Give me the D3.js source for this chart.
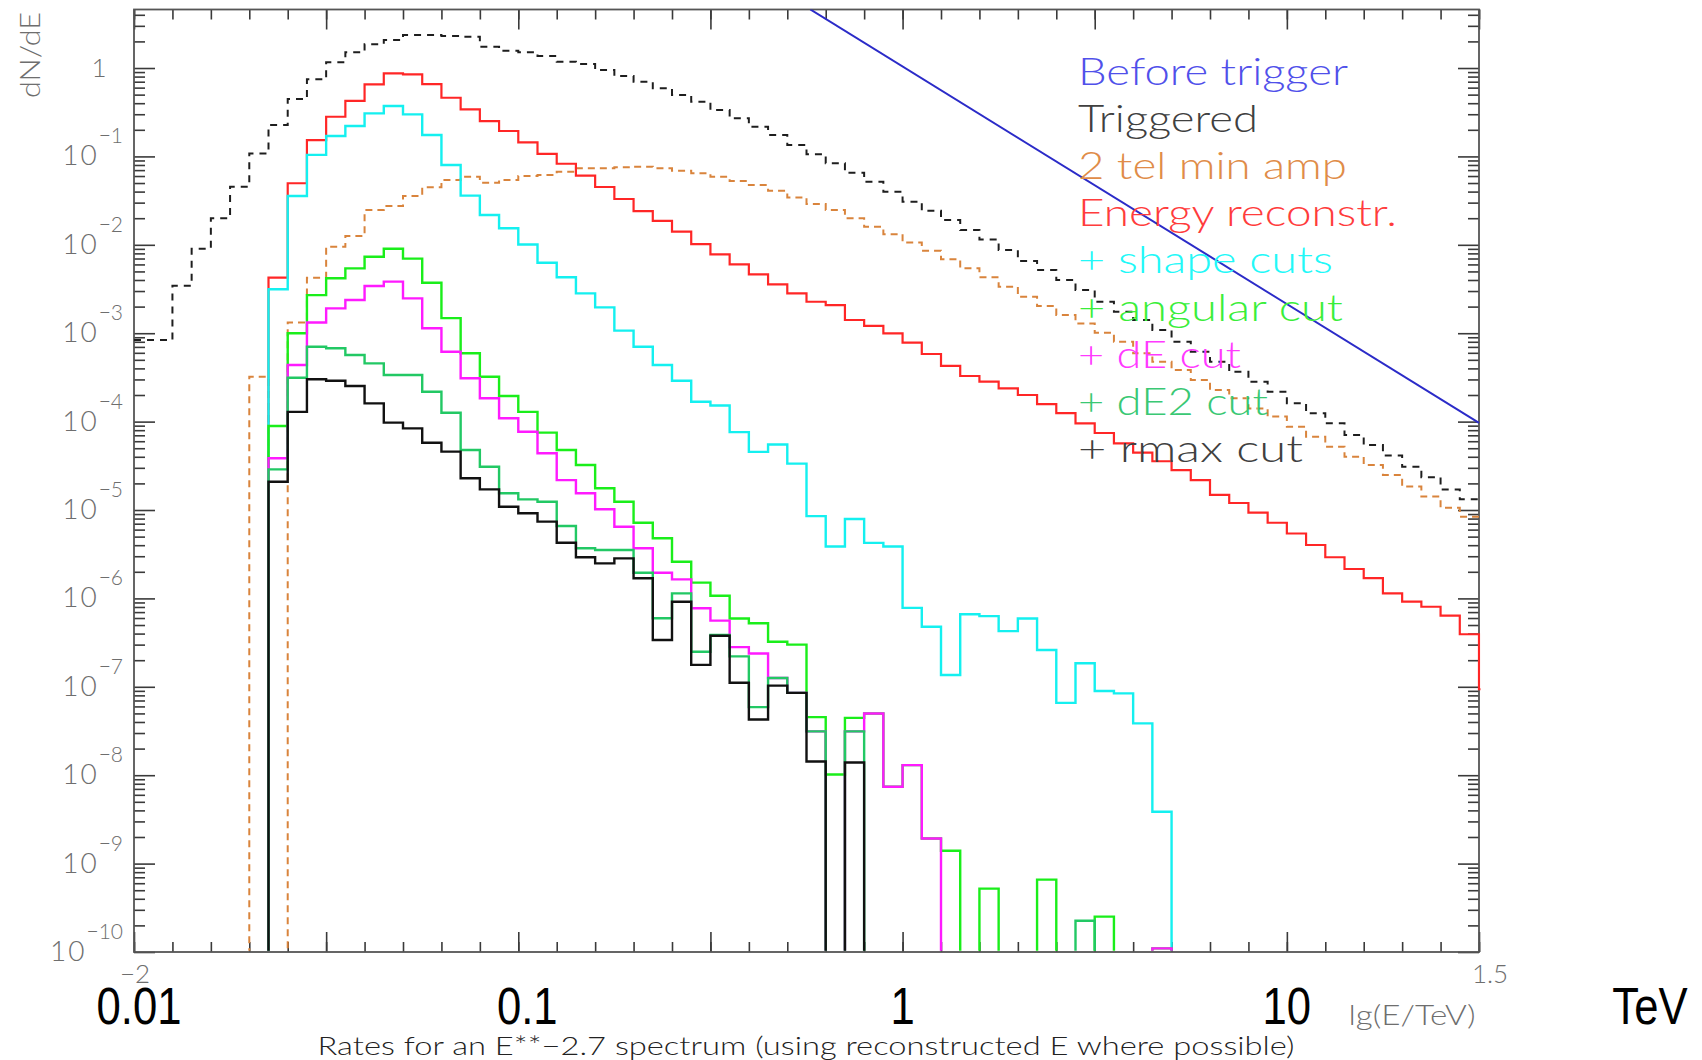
<!DOCTYPE html>
<html>
<head>
<meta charset="utf-8">
<script src="https://cdn.jsdelivr.net/npm/d3@7/dist/d3.min.js"></script>
<style>
  html, body { margin: 0; padding: 0; background: #fff; }
  svg { display: block; }
</style>
</head>
<body>
<svg id="chart" width="1702" height="1060"></svg>
<script>
// Histogram bins: width 0.05 in lg(E/TeV), first bin starts at lg(E/TeV) = -2
const binStart = -2;
const binWidth = 0.05;

// dN/dE per bin (0 = empty bin)
const triggered = [
  8.38e-4, 8.38e-4, 3.44e-3, 9.04e-3, 0.0200, 0.0454, 0.108, 0.226, 0.446, 0.745,
  1.16, 1.51, 1.86, 2.07, 2.36, 2.36, 2.30, 2.26, 1.74, 1.57,
  1.51, 1.37, 1.18, 1.11, 0.948, 0.813, 0.700, 0.589, 0.495, 0.416,
  0.335, 0.270, 0.217, 0.175, 0.135, 0.106, 0.0836, 0.0655, 0.0518, 0.0399,
  0.0308, 0.0243, 0.0191, 0.0147, 0.0115, 8.73e-3, 6.56e-3, 5.19e-3, 4.00e-3, 3.08e-3,
  2.27e-3, 1.75e-3, 1.41e-3, 1.09e-3, 8.02e-4, 6.18e-4, 4.76e-4, 3.67e-4, 2.83e-4, 2.18e-4,
  1.61e-4, 1.24e-4, 9.57e-5, 7.05e-5, 5.43e-5, 4.15e-5, 3.09e-5, 2.35e-5, 1.71e-5, 1.32e-5
];

const twoTelMinAmp = [
  0, 0, 0, 0, 0, 0, 3.22e-4, 0, 1.32e-3, 4.25e-3,
  9.51e-3, 0.0126, 0.0248, 0.0275, 0.0356, 0.0447, 0.0541, 0.0590, 0.0505, 0.0541,
  0.0600, 0.0617, 0.0671, 0.0733, 0.0733, 0.0753, 0.0766, 0.0733, 0.0689, 0.0644,
  0.0590, 0.0527, 0.0474, 0.0409, 0.0344, 0.0290, 0.0248, 0.0200, 0.0160, 0.0132,
  0.0106, 8.57e-3, 6.85e-3, 5.42e-3, 4.29e-3, 3.36e-3, 2.59e-3, 2.03e-3, 1.61e-3, 1.29e-3,
  1.01e-3, 8.02e-4, 5.93e-4, 4.76e-4, 3.84e-4, 2.96e-4, 2.28e-4, 1.84e-4, 1.41e-4, 1.14e-4,
  8.75e-5, 6.75e-5, 5.20e-5, 4.01e-5, 3.23e-5, 2.49e-5, 1.84e-5, 1.42e-5, 1.06e-5, 8.39e-6
];

// last entry is the overflow bin just past lg(E/TeV) = 1.5
const energyReconstr = [
  0, 0, 0, 0, 0, 0, 0, 4.25e-3, 0.0497, 0.153,
  0.281, 0.424, 0.653, 0.871, 0.849, 0.659, 0.461, 0.340, 0.251, 0.194,
  0.144, 0.107, 0.0826, 0.0605, 0.0451, 0.0330, 0.0241, 0.0187, 0.0141, 0.0102,
  7.81e-3, 6.01e-3, 4.63e-3, 3.57e-3, 2.82e-3, 2.27e-3, 2.08e-3, 1.41e-3, 1.21e-3, 9.95e-4,
  7.81e-4, 5.82e-4, 4.26e-4, 3.28e-4, 2.83e-4, 2.38e-4, 2.00e-4, 1.58e-4, 1.25e-4, 9.57e-5,
  7.43e-5, 5.68e-5, 4.46e-5, 3.56e-5, 2.83e-5, 2.18e-5, 1.48e-5, 1.20e-5, 9.33e-6, 7.18e-6,
  5.42e-6, 4.02e-6, 2.92e-6, 2.15e-6, 1.70e-6, 1.14e-6, 9.18e-7, 8.05e-7, 6.37e-7, 3.93e-7,
  9.38e-8
];

const shapeCuts = [
  0, 0, 0, 0, 0, 0, 0, 3.14e-3, 0.0356, 0.104,
  0.170, 0.221, 0.307, 0.372, 0.299, 0.175, 0.0800, 0.0360, 0.0217, 0.0154,
  0.0101, 6.28e-3, 4.29e-3, 2.82e-3, 1.96e-3, 1.07e-3, 7.03e-4, 4.37e-4, 2.90e-4, 1.68e-4,
  1.52e-4, 7.60e-5, 4.55e-5, 5.50e-5, 3.35e-5, 8.53e-6, 3.87e-6, 7.92e-6, 4.25e-6, 3.87e-6,
  7.82e-7, 4.78e-7, 1.36e-7, 6.61e-7, 6.31e-7, 4.27e-7, 5.92e-7, 2.61e-7, 6.58e-8, 1.85e-7,
  8.95e-8, 8.43e-8, 3.86e-8, 3.86e-9, 0, 0, 0, 0, 0, 0,
  0, 0, 0, 0, 0, 0, 0, 0, 0, 0
];

const angularCut = [
  0, 0, 0, 0, 0, 0, 0, 8.91e-5, 9.98e-4, 2.70e-3,
  4.18e-3, 5.42e-3, 7.33e-3, 9.04e-3, 6.97e-3, 3.72e-3, 1.48e-3, 5.93e-4, 3.22e-4, 1.95e-4,
  1.29e-4, 7.50e-5, 4.78e-5, 3.23e-5, 1.76e-5, 1.24e-5, 7.18e-6, 4.79e-6, 2.60e-6, 1.51e-6,
  1.07e-6, 5.92e-7, 5.24e-7, 3.23e-7, 3.00e-7, 4.54e-8, 1.02e-8, 4.45e-8, 4.98e-8, 7.40e-9,
  1.30e-8, 1.92e-9, 1.40e-9, 0, 5.21e-10, 0, 0, 6.59e-10, 0, 0,
  2.51e-10, 0, 0, 1.1e-10, 0, 0, 0, 0, 0, 0,
  0, 0, 0, 0, 0, 0, 0, 0, 0, 0
];

const dECut = [
  0, 0, 0, 0, 0, 0, 0, 3.85e-5, 4.37e-4, 1.32e-3,
  1.91e-3, 2.38e-3, 3.42e-3, 3.83e-3, 2.48e-3, 1.14e-3, 6.18e-4, 3.09e-4, 1.84e-4, 1.09e-4,
  7.69e-5, 4.38e-5, 2.18e-5, 1.55e-5, 1.02e-5, 6.47e-6, 3.69e-6, 1.95e-6, 1.64e-6, 7.73e-7,
  5.60e-7, 2.81e-7, 2.38e-7, 1.26e-7, 8.53e-8, 3.13e-8, 0, 3.13e-8, 4.98e-8, 7.40e-9,
  1.30e-8, 1.92e-9, 0, 0, 0, 0, 0, 0, 0, 0,
  0, 0, 0, 1.1e-10, 0, 0, 0, 0, 0, 0,
  0, 0, 0, 0, 0, 0, 0, 0, 0, 0
];

const dE2Cut = [
  0, 0, 0, 0, 0, 0, 0, 2.88e-5, 3.14e-4, 7.03e-4,
  6.75e-4, 5.66e-4, 4.56e-4, 3.37e-4, 3.37e-4, 2.18e-4, 1.26e-4, 4.78e-5, 3.09e-5, 1.55e-5,
  1.32e-5, 1.24e-5, 6.59e-6, 3.69e-6, 3.53e-6, 3.53e-6, 1.95e-6, 5.96e-7, 1.14e-6, 2.49e-7,
  3.86e-7, 2.21e-7, 5.89e-8, 1.26e-7, 8.53e-8, 3.13e-8, 0, 3.13e-8, 0, 0,
  0, 0, 0, 0, 0, 0, 0, 0, 0, 2.26e-10,
  0, 0, 0, 0, 0, 0, 0, 0, 0, 0,
  0, 0, 0, 0, 0, 0, 0, 0, 0, 0
];

const rmaxCut = [
  0, 0, 0, 0, 0, 0, 0, 2.09e-5, 1.29e-4, 3.01e-4,
  2.90e-4, 2.53e-4, 1.61e-4, 9.73e-5, 8.39e-5, 5.77e-5, 4.57e-5, 2.29e-5, 1.71e-5, 1.09e-5,
  9.18e-6, 7.38e-6, 4.27e-6, 2.92e-6, 2.49e-6, 2.84e-6, 1.69e-6, 3.38e-7, 9.18e-7, 1.77e-7,
  3.78e-7, 1.11e-7, 4.26e-8, 1.03e-7, 8.53e-8, 1.43e-8, 0, 1.39e-8, 0, 0,
  0, 0, 0, 0, 0, 0, 0, 0, 0, 0,
  0, 0, 0, 0, 0, 0, 0, 0, 0, 0,
  0, 0, 0, 0, 0, 0, 0, 0, 0, 0
];

// Input spectrum before trigger: [lg(E/TeV), dN/dE]
const beforeTrigger = [[-0.24, 4.6], [1.5, 9.7e-5]];

const legendLabels = ["Before trigger", "Triggered", "2 tel min amp", "Energy reconstr.",
  "+ shape cuts", "+ angular cut", "+ dE cut", "+ dE2 cut", "+ rmax cut"];

const yDecades = [-10, -9, -8, -7, -6, -5, -4, -3, -2, -1, 0];
const energyLabels = [0.01, 0.1, 1, 10];
const subtitle = "Rates for an E**\u22122.7 spectrum (using reconstructed E where possible)";

// ---------------- layout ----------------
const svg = d3.select("#chart");
const plot = { left: 134, right: 1479, top: 9.5, bottom: 952 };

const x = d3.scaleLinear().domain([-2, 1.5]).range([plot.left, plot.right]);
const y = d3.scaleLog().domain([1e-10, Math.pow(10, 0.662)]).range([plot.bottom, plot.top]);

const thinFont = "Lato, 'DejaVu Sans', sans-serif";
const thinWeight = 300;

// ---------------- axes (drawn first, data goes on top) ----------------
const xMinor = d3.range(0, 36).map(i => -2 + i * 0.1);
const xMajor = d3.range(0, 8).map(i => -2 + i * 0.5);
const yMajor = yDecades.map(k => Math.pow(10, k));
const yMinor = [];
yDecades.forEach(k => {
  for (let m = 2; m <= 9; m++) {
    const v = m * Math.pow(10, k);
    if (v < y.domain()[1]) yMinor.push(v);
  }
});

function styleAxis(g) {
  g.select(".domain").remove();
  g.selectAll("line").attr("stroke", "#3a3a3a").attr("stroke-width", 1.6);
}

const axisSpecs = [
  [d3.axisBottom(x).tickValues(xMinor).tickSize(-10), `translate(0,${plot.bottom})`],
  [d3.axisBottom(x).tickValues(xMajor).tickSize(-20), `translate(0,${plot.bottom})`],
  [d3.axisTop(x).tickValues(xMinor).tickSize(-10), `translate(0,${plot.top})`],
  [d3.axisTop(x).tickValues(xMajor).tickSize(-20), `translate(0,${plot.top})`],
  [d3.axisLeft(y).tickValues(yMinor).tickSize(-11), `translate(${plot.left},0)`],
  [d3.axisLeft(y).tickValues(yMajor).tickSize(-21), `translate(${plot.left},0)`],
  [d3.axisRight(y).tickValues(yMinor).tickSize(-11), `translate(${plot.right},0)`],
  [d3.axisRight(y).tickValues(yMajor).tickSize(-21), `translate(${plot.right},0)`]
];
axisSpecs.forEach(([axis, tr]) => {
  svg.append("g").attr("transform", tr)
    .call(axis.tickFormat("").tickSizeOuter(0))
    .call(styleAxis);
});

// frame
svg.append("rect")
  .attr("x", plot.left).attr("y", plot.top)
  .attr("width", plot.right - plot.left).attr("height", plot.bottom - plot.top)
  .attr("fill", "none").attr("stroke", "#555").attr("stroke-width", 1.8);

// ---------------- histograms ----------------
svg.append("defs").append("clipPath").attr("id", "plotClip")
  .append("rect")
  .attr("x", plot.left).attr("y", plot.top)
  .attr("width", plot.right - plot.left + 1.5)
  .attr("height", plot.bottom - 1.2 - plot.top);

const gData = svg.append("g").attr("clip-path", "url(#plotClip)");

// step outline of a histogram; empty bins drop below the frame
const stepLine = d3.line()
  .x(d => x(d[0]))
  .y(d => d[1] > 0 ? y(d[1]) : plot.bottom + 8)
  .curve(d3.curveStepAfter);

function histPoints(values) {
  const pts = values.map((v, i) => [binStart + i * binWidth, v]);
  pts.push([binStart + values.length * binWidth, values[values.length - 1]]);
  return pts;
}

// spectrum line
gData.append("path")
  .datum(beforeTrigger)
  .attr("fill", "none")
  .attr("stroke", "#2b2bc8")
  .attr("stroke-width", 2)
  .attr("d", d3.line().x(d => x(d[0])).y(d => y(d[1])));

const series = [
  { values: triggered,      color: "#1e1e1e", width: 2,   dash: "7,6" },
  { values: twoTelMinAmp,   color: "#d9843c", width: 2,   dash: "7,5" },
  { values: energyReconstr, color: "#ff2626", width: 2.2, dash: null },
  { values: shapeCuts,      color: "#14f0f0", width: 2.4, dash: null },
  { values: angularCut,     color: "#1aee1a", width: 2.4, dash: null },
  { values: dECut,          color: "#ff1aff", width: 2.4, dash: null },
  { values: dE2Cut,         color: "#22c864", width: 2.4, dash: null },
  { values: rmaxCut,        color: "#111111", width: 2.4, dash: null }
];

series.forEach(s => {
  gData.append("path")
    .datum(histPoints(s.values))
    .attr("fill", "none")
    .attr("stroke", s.color)
    .attr("stroke-width", s.width)
    .attr("stroke-dasharray", s.dash)
    .attr("stroke-linejoin", "miter")
    .attr("d", stepLine);
});

// ---------------- labels ----------------
const tickColor = "#6e6e6e";

yDecades.forEach(k => {
  const ty = y(Math.pow(10, k));
  if (k === 0) {
    svg.append("text")
      .attr("x", 99).attr("y", ty + 9)
      .attr("text-anchor", "middle")
      .attr("font-family", thinFont).attr("font-weight", thinWeight)
      .attr("font-size", 26).attr("fill", tickColor)
      .text("1");
  } else {
    const t = svg.append("text")
      .attr("x", 123).attr("y", ty + 9)
      .attr("text-anchor", "end")
      .attr("font-family", thinFont).attr("font-weight", thinWeight)
      .attr("fill", tickColor);
    t.append("tspan").attr("font-size", 28).attr("letter-spacing", 2).text("10");
    t.append("tspan").attr("font-size", 21).attr("dy", -22).text("\u2212" + Math.abs(k));
  }
});

svg.append("text")
  .attr("transform", "translate(40,55) rotate(-90)")
  .attr("text-anchor", "middle")
  .attr("font-family", thinFont).attr("font-weight", thinWeight)
  .attr("font-size", 28).attr("fill", tickColor)
  .attr("textLength", 86).attr("lengthAdjust", "spacingAndGlyphs")
  .text("dN/dE");

svg.append("text")
  .attr("x", x(-2) + 1).attr("y", 983)
  .attr("text-anchor", "middle")
  .attr("font-family", thinFont).attr("font-weight", thinWeight)
  .attr("font-size", 26).attr("fill", tickColor)
  .text("\u22122");

svg.append("text")
  .attr("x", x(1.5) + 11).attr("y", 983)
  .attr("text-anchor", "middle")
  .attr("font-family", thinFont).attr("font-weight", thinWeight)
  .attr("font-size", 26).attr("fill", tickColor)
  .text("1.5");

svg.append("text")
  .attr("x", 1412).attr("y", 1025)
  .attr("text-anchor", "middle")
  .attr("font-family", thinFont).attr("font-weight", thinWeight)
  .attr("font-size", 27).attr("fill", tickColor)
  .attr("textLength", 127).attr("lengthAdjust", "spacingAndGlyphs")
  .text("lg(E/TeV)");

svg.append("text")
  .attr("x", 806).attr("y", 1055)
  .attr("text-anchor", "middle")
  .attr("font-family", thinFont).attr("font-weight", thinWeight)
  .attr("font-size", 26).attr("fill", "#222")
  .attr("textLength", 977).attr("lengthAdjust", "spacingAndGlyphs")
  .text(subtitle);

// energy in TeV under the axis
const tevFont = "'Liberation Sans', Arial, sans-serif";
const tevShift = { 0.01: 5, 0.1: 9, 1: 0, 10: 0 };
energyLabels.forEach(e => {
  const cx = x(Math.log10(e)) + tevShift[e];
  svg.append("g").attr("transform", `translate(${cx},1024) scale(0.84,1)`)
    .append("text")
    .attr("text-anchor", "middle")
    .attr("font-family", tevFont).attr("font-size", 52).attr("fill", "#000")
    .text(String(e));
});
svg.append("g").attr("transform", `translate(1650,1024) scale(0.84,1)`)
  .append("text")
  .attr("text-anchor", "middle")
  .attr("font-family", tevFont).attr("font-size", 52).attr("fill", "#000")
  .text("TeV");

// legend
const legendColors = ["#5050ea", "#404040", "#e08c48", "#ff3c3c", "#22f8f8",
  "#3aee3a", "#ff3aff", "#3ac874", "#404040"];
const legendWidths = [270, 180, 269, 319, 255, 265, 163, 190, 225];
legendLabels.forEach((label, i) => {
  svg.append("text")
    .attr("x", 1078).attr("y", 85 + i * 47.1)
    .attr("font-family", thinFont).attr("font-weight", thinWeight)
    .attr("font-size", 37).attr("fill", legendColors[i])
    .attr("textLength", legendWidths[i]).attr("lengthAdjust", "spacingAndGlyphs")
    .text(label);
});
</script>
</body>
</html>
